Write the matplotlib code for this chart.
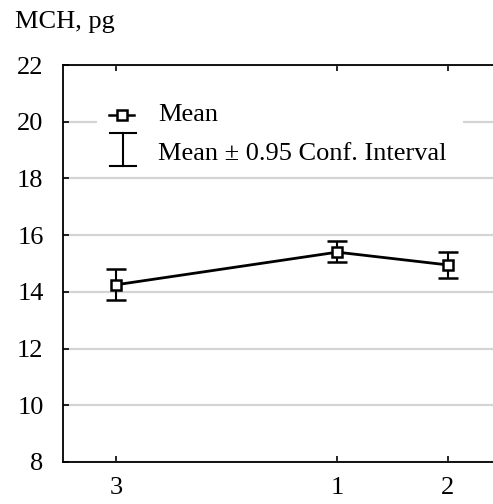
import matplotlib
matplotlib.use("Agg")
from matplotlib import pyplot as plt
from matplotlib.patches import Rectangle

plt.rcParams.update({
    'font.family': 'Liberation Serif',
    'font.size': 19,
    'xtick.labelsize': 19,
    'ytick.labelsize': 19,
})

# groups in plotting order, with their x positions on the axis
groups = ['3', '1', '2']
group_x = [0, 2, 3]
mch_mean = [14.25, 15.4, 14.95]
ci_low = [13.7, 15.05, 14.5]
ci_high = [14.8, 15.8, 15.4]

y_ticks = [8, 10, 12, 14, 16, 18, 20, 22]

fig = plt.figure(figsize=(4.93, 5.04), dpi=100)
ax = fig.add_axes([63 / 493, 42 / 504, 440 / 493, 397 / 504])

err_lo = [m - lo for m, lo in zip(mch_mean, ci_low)]
err_hi = [hi - m for m, hi in zip(mch_mean, ci_high)]

ax.plot(group_x, mch_mean, color='black', lw=2, zorder=3)
ax.errorbar(group_x, mch_mean, yerr=[err_lo, err_hi], fmt='none',
            ecolor='black', elinewidth=1.5, capsize=7.5, capthick=1.8, zorder=4)
ax.plot(group_x, mch_mean, ls='none', marker='s', ms=6.5, mfc='white',
        mec='black', mew=1.8, zorder=5)

ax.set_xlim(-0.48, 3.5)
ax.set_ylim(8, 22)
ax.set_xticks(group_x)
ax.set_xticklabels(groups)
ax.set_yticks(y_ticks)

ax.set_axisbelow(True)
ax.yaxis.grid(True, color='#d4d4d4', lw=1.6)
ax.tick_params(axis='y', direction='in', length=4, width=1.2, pad=14)
ax.tick_params(axis='x', direction='in', length=4, width=1.2, pad=11, top=True)
for side in ['left', 'bottom', 'top', 'right']:
    ax.spines[side].set_linewidth(1.3)

# legend box drawn by hand so the icons look like the usual mean / CI key
ax.add_patch(Rectangle((0.077, 0.735), 0.832, 0.177, transform=ax.transAxes,
                       facecolor='white', edgecolor='none', zorder=1))
ax.plot([0.105, 0.161], [0.874, 0.874], transform=ax.transAxes,
        color='black', lw=1.8, zorder=3)
ax.plot([0.133], [0.874], transform=ax.transAxes, ls='none', marker='s',
        ms=6.5, mfc='white', mec='black', mew=1.8, zorder=5)
ax.text(0.216, 0.874, 'Mean', transform=ax.transAxes, va='center', ha='left',
        fontsize=19)
ax.plot([0.136, 0.136], [0.746, 0.829], transform=ax.transAxes,
        color='black', lw=1.5, zorder=3)
for yy in (0.746, 0.829):
    ax.plot([0.107, 0.165], [yy, yy], transform=ax.transAxes,
            color='black', lw=1.5, zorder=3)
ax.text(0.216, 0.776, 'Mean \u00b1 0.95 Conf. Interval', transform=ax.transAxes,
        va='center', ha='left', fontsize=19)

fig.text(15 / 493, 1 - 22 / 504, 'MCH, pg', ha='left', va='center', fontsize=19)

fig.savefig('out.png', dpi=100)
